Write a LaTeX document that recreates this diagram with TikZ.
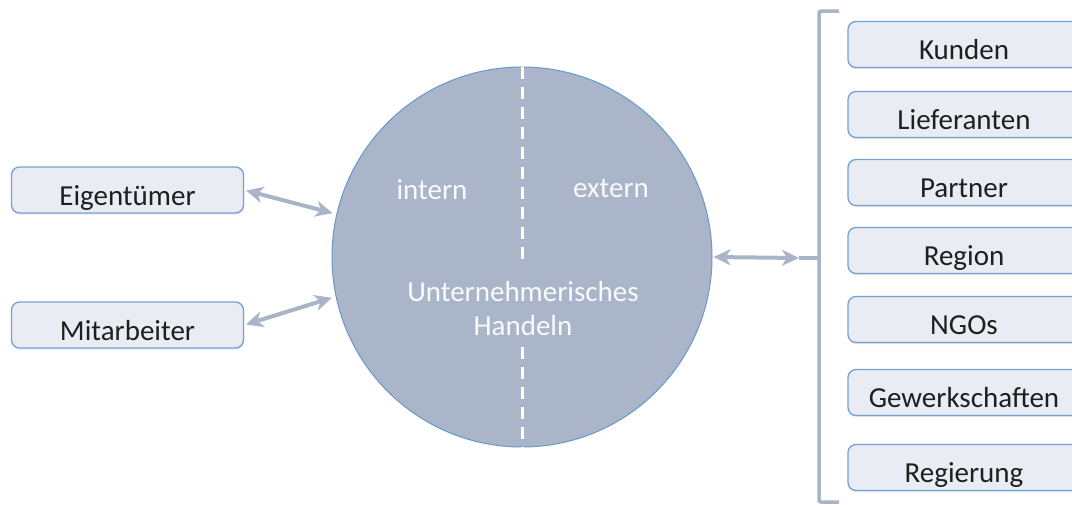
\documentclass[tikz,border=0pt]{standalone}
\usepackage{fontspec}
\setmainfont{Carlito}
\usepackage{tikz}
\usetikzlibrary{arrows.meta,calc,shadows}
\definecolor{boxBlue}{HTML}{76A0D2}
\definecolor{boxFill}{HTML}{E9ECF2}
\definecolor{linkGray}{HTML}{A9B4C6}
\definecolor{ballFill}{HTML}{AAB5C9}
\definecolor{ballEdge}{HTML}{6A97CB}

\begin{document}
\begin{tikzpicture}[x=1pt, y=-1pt,
    groupBox/.style={draw=boxBlue, fill=boxFill, rounded corners=8pt, line width=1.3pt, minimum width=232pt, minimum height=46pt, inner sep=0pt, text height=30pt, text depth=0pt, font=\fontsize{29}{34}\selectfont, text=black!88, drop shadow={shadow xshift=0.5pt, shadow yshift=-1.5pt, opacity=0.18}},
    ballText/.style={text=white!93!ballFill, font=\fontsize{29}{34}\selectfont, align=center, inner sep=0pt},
    linkArrow/.style={{Stealth[length=17pt,width=16pt,inset=5pt]}-{Stealth[length=17pt,width=16pt,inset=5pt]}, line width=4pt, draw=linkGray}
]
    \useasboundingbox (0,0) rectangle (1072,504);
    \clip (0,0) rectangle (1072,504);

    % inner stakeholders
    \node[groupBox] (owner) at (127.5,190) {Eigentümer};
    \node[groupBox] (staff) at (127.5,325) {Mitarbeiter};

    % the company in the middle
    \node[circle, draw=ballEdge, fill=ballFill, line width=1pt, minimum size=380pt, inner sep=0pt] (core) at (522,257) {};
    \coordinate (gapTop) at (522,266);
    \coordinate (gapBot) at (522,347);
    \draw[white, line width=3pt, dash pattern=on 12pt off 8pt] (core.north) -- (gapTop);
    \draw[white, line width=3pt, dash pattern=on 12pt off 8pt] (gapBot) -- (core.south);
    \node[ballText] (inner) at (432,190) {intern};
    \node[ballText] (outer) at (611,188) {extern};
    \node[ballText] (action) at (523,309) {Unternehmerisches\\Handeln};

    % outer stakeholders
    \node[groupBox] (cust) at (964,44.5) {Kunden};
    \node[groupBox] (supp) at (964,114.5) {Lieferanten};
    \node[groupBox] (part) at (964,182.5) {Partner};
    \node[groupBox] (regn) at (964,250.5) {Region};
    \node[groupBox] (ngos) at (964,319.5) {NGOs};
    \node[groupBox] (unio) at (964,392.5) {Gewerkschaften};
    \node[groupBox] (govt) at (964,467.5) {Regierung};

    % bracket round the outer group
    \coordinate (brTop) at (819,11);
    \coordinate (brBot) at (819,502);
    \coordinate (hub) at (819,258);
    \coordinate (hubIn) at (799,258);
    \draw[linkGray, line width=3.5pt, rounded corners=2pt] ($(brTop)+(20,0)$) -- (brTop) -- (brBot) -- ($(brBot)+(20,0)$);

    % links
    \draw[linkArrow, shorten <=2pt, shorten >=4pt] (owner.east) -- (core.167);
    \draw[linkArrow, shorten <=2pt, shorten >=4pt] (staff.east) -- (core.192);
    \draw[linkArrow, shorten <=1pt] (core.east) -- (hubIn);
    \draw[linkGray, line width=4pt] (hubIn) -- (hub);
\end{tikzpicture}
\end{document}
